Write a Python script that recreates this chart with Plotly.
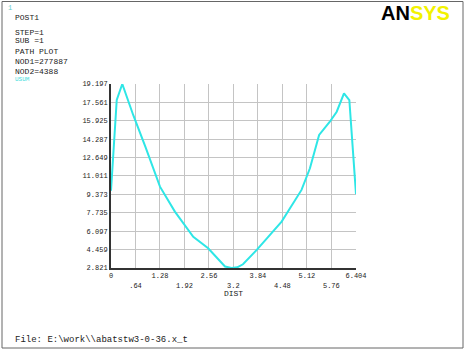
import plotly.graph_objects as go

# Data
dist = [0.0, 0.15, 0.295, 0.58, 0.90, 1.19, 1.28, 1.67, 2.15, 2.54, 2.98, 3.15, 3.30, 3.45, 3.81, 4.46, 4.98, 5.20, 5.44, 5.72, 5.90, 6.09, 6.23, 6.404]
usum = [9.7, 17.77, 19.197, 16.44, 13.6, 10.8, 10.06, 7.84, 5.6, 4.58, 2.95, 2.83, 2.88, 3.15, 4.43, 6.95, 9.77, 11.7, 14.66, 15.84, 16.73, 18.37, 17.77, 9.4]

y_ticks = [2.821, 4.459, 6.097, 7.735, 9.373, 11.011, 12.649, 14.287, 15.925, 17.561, 19.197]
y_labels = ["2.821", "4.459", "6.097", "7.735", "9.373", "11.011", "12.649", "14.287", "15.925", "17.561", "19.197"]
x_ticks = [0, 0.64, 1.28, 1.92, 2.56, 3.2, 3.84, 4.48, 5.12, 5.76, 6.404]
x_labels = ["0", ".64", "1.28", "1.92", "2.56", "3.2", "3.84", "4.48", "5.12", "5.76", "6.404"]

info_lines = ["POST1", "STEP=1", "SUB =1", "PATH PLOT", "NOD1=277887", "NOD2=4388"]
legend_label = "USUM"
file_text = "File: E:\\work\\\\abatstw3-0-36.x_t"

W, H = 467, 352
L, R, T, B = 111, 111, 84, 84
PW, PH = W - L - R, H - T - B

def px(x):
    return (x - L) / PW

def py(y):
    return (H - B - y) / PH

mono = "Liberation Mono"

fig = go.Figure()
fig.add_trace(go.Scatter(x=dist, y=usum, mode="lines",
                         line=dict(color="#2ee6e6", width=2), showlegend=False))

# staggered tick labels
ticktext = [t if i % 2 == 0 else "<br>" + t for i, t in enumerate(x_labels)]

fig.update_layout(
    width=W, height=H,
    margin=dict(l=L, r=R, t=T, b=B),
    paper_bgcolor="white", plot_bgcolor="white",
    font=dict(family=mono, size=7, color="#222"),
    xaxis=dict(range=[0, 6.404], tickvals=x_ticks, ticktext=ticktext,
               showgrid=True, gridcolor="#c4c4c4", gridwidth=1,
               showline=True, linecolor="#333", linewidth=2,
               zeroline=False, ticks="", tickfont=dict(size=7, family=mono),
               title=dict(text="DIST", font=dict(size=8, family=mono), standoff=2)),
    yaxis=dict(range=[2.821, 19.197], tickvals=y_ticks, ticktext=y_labels,
               showgrid=True, gridcolor="#c4c4c4", gridwidth=1,
               showline=True, linecolor="#333", linewidth=2,
               zeroline=False, ticks="", tickfont=dict(size=7, family=mono)),
)

# outer frame
fig.add_shape(type="rect", xref="paper", yref="paper",
              x0=px(2), x1=px(463), y0=py(348), y1=py(1.5),
              line=dict(color="#666", width=1), fillcolor="rgba(0,0,0,0)")

ann = []
ann.append(dict(text="1", x=px(6), y=py(2), xanchor="left", yanchor="top",
                font=dict(family=mono, size=7, color="#66cccc")))
ys = [17, 32, 41, 51, 61, 71]
for t, yy in zip(info_lines, ys):
    ann.append(dict(text=t, x=px(13), y=py(yy), xanchor="left", yanchor="middle",
                    font=dict(family=mono, size=8, color="#222")))
ann.append(dict(text=legend_label, x=px(13), y=py(80), xanchor="left", yanchor="middle",
                font=dict(family=mono, size=6, color="#44dddd")))
ann.append(dict(text=file_text, x=px(13), y=py(340), xanchor="left", yanchor="middle",
                font=dict(family=mono, size=9, color="#222")))
ann.append(dict(text="<b>AN<span style='color:#f2f200'>SYS</span></b>",
                x=px(379), y=py(13), xanchor="left", yanchor="middle",
                font=dict(family="Liberation Sans", size=20, color="black")))
for a in ann:
    a.update(xref="paper", yref="paper", showarrow=False)
fig.update_layout(annotations=ann)

fig.write_html("out.html", config={"displayModeBar": False},
               post_script="document.body.style.margin='0';")
